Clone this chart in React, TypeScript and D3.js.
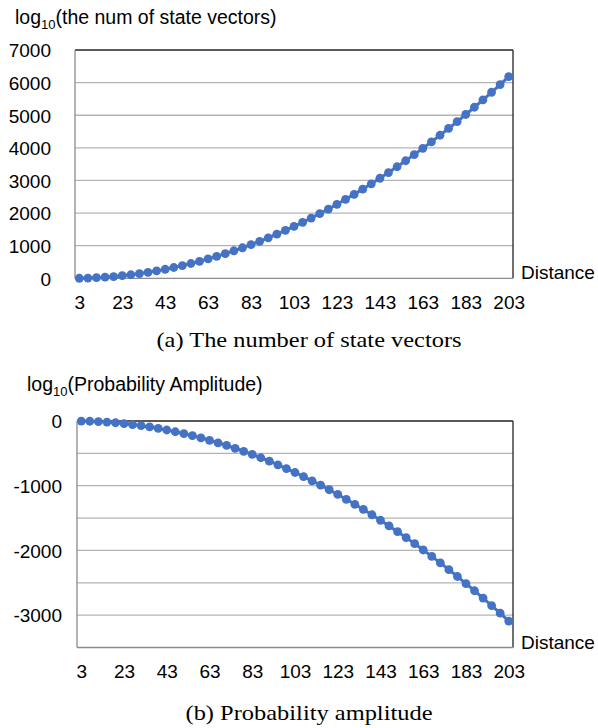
import React, { useEffect, useRef } from 'react'
import * as d3 from 'd3'

// distances 3, 7, 11 ... 203
const distances = [
  3, 7, 11, 15, 19, 23, 27, 31, 35, 39, 43, 47, 51, 55, 59, 63, 67, 71, 75, 79,
  83, 87, 91, 95, 99, 103, 107, 111, 115, 119, 123, 127, 131, 135, 139, 143, 147,
  151, 155, 159, 163, 167, 171, 175, 179, 183, 187, 191, 195, 199, 203,
]
const xTickLabels = [3, 23, 43, 63, 83, 103, 123, 143, 163, 183, 203]

const stateVectors = [
  1, 7, 18, 34, 54, 79, 109, 144, 184, 228, 277, 331, 390, 454, 522, 595, 673,
  756, 844, 936, 1033, 1135, 1242, 1354, 1470, 1591, 1717, 1848, 1984, 2124,
  2269, 2419, 2574, 2734, 2898, 3067, 3241, 3420, 3604, 3792, 3985, 4183, 4386,
  4594, 4806, 5023, 5245, 5472, 5704, 5940, 6181,
]
const stateTicks = [0, 1000, 2000, 3000, 4000, 5000, 6000, 7000]

const probAmplitude = [
  -1, -4, -9, -17, -27, -40, -55, -72, -92, -114, -139, -166, -195, -227, -261,
  -298, -337, -378, -422, -468, -517, -568, -621, -677, -735, -796, -859, -924,
  -992, -1062, -1135, -1210, -1287, -1367, -1449, -1534, -1621, -1710, -1802,
  -1896, -1993, -2092, -2193, -2297, -2403, -2512, -2623, -2736, -2852, -2970,
  -3091,
]
const probTicks = [0, -1000, -2000, -3000]
const probGrid = [-500, -1000, -1500, -2000, -2500, -3000]

const BLUE = '#4472C4'
const SANS = '"Liberation Sans", Arial, sans-serif'
const SERIF = '"Liberation Serif", "DejaVu Serif", serif'

function drawPanel(g, cfg) {
  const { left, right, top, bottom, domain, values, ticks, grid, labelRight,
    xLabelY, titleMain, titleX, titleY, captionText, captionY, captionLen } = cfg

  const x = d3.scalePoint().domain(distances).range([left, right]).padding(0.5)
  const y = d3.scaleLinear().domain(domain).range([bottom, top])

  // grid
  g.selectAll('.grid')
    .data(grid)
    .join('line')
    .attr('x1', left).attr('x2', right)
    .attr('y1', d => y(d)).attr('y2', d => y(d))
    .attr('stroke', '#b4b4b4').attr('stroke-width', 1.3)

  // frame
  g.append('line').attr('x1', left).attr('x2', right).attr('y1', top).attr('y2', top)
    .attr('stroke', '#222').attr('stroke-width', 1.3)
  g.append('line').attr('x1', right).attr('x2', right).attr('y1', top).attr('y2', bottom)
    .attr('stroke', '#222').attr('stroke-width', 1.3)
  g.append('line').attr('x1', left).attr('x2', right).attr('y1', bottom).attr('y2', bottom)
    .attr('stroke', '#8c8c8c').attr('stroke-width', 1.3)
  g.append('line').attr('x1', left).attr('x2', left).attr('y1', top).attr('y2', bottom)
    .attr('stroke', '#8c8c8c').attr('stroke-width', 1.3)

  // y axis labels
  const yAxis = d3.axisLeft(y).tickValues(ticks).tickSize(0).tickPadding(0)
    .tickFormat(d => String(d))
  g.append('g')
    .attr('transform', `translate(${labelRight},0)`)
    .call(yAxis)
    .call(s => s.select('.domain').remove())
    .selectAll('text')
    .attr('font-family', SANS).attr('font-size', 19).attr('fill', '#000')
    .attr('dy', '0.36em')

  // x axis labels
  const xAxis = d3.axisBottom(x).tickValues(xTickLabels).tickSize(0).tickPadding(0)
  g.append('g')
    .attr('transform', `translate(0,${xLabelY})`)
    .call(xAxis)
    .call(s => s.select('.domain').remove())
    .selectAll('text')
    .attr('font-family', SANS).attr('font-size', 19).attr('fill', '#000')
    .attr('dy', 0)

  // line and dots
  const pts = distances.map((d, i) => [x(d), y(values[i])])
  g.append('path')
    .attr('d', d3.line()(pts))
    .attr('fill', 'none').attr('stroke', BLUE).attr('stroke-width', 3)
  g.selectAll('.dot')
    .data(pts)
    .join('circle')
    .attr('cx', d => d[0]).attr('cy', d => d[1]).attr('r', 4.4)
    .attr('fill', BLUE)

  // "Distance"
  g.append('text')
    .attr('x', right + 8).attr('y', bottom + 1)
    .attr('font-family', SANS).attr('font-size', 19)
    .text('Distance')

  // y title with subscript
  const t = g.append('text')
    .attr('x', titleX).attr('y', titleY)
    .attr('font-family', SANS).attr('font-size', 19.5)
  t.append('tspan').text('log')
  t.append('tspan').attr('font-size', 13).attr('dy', 5).text('10')
  t.append('tspan').attr('dy', -5).text(titleMain)

  // caption
  g.append('text')
    .attr('x', 309).attr('y', captionY)
    .attr('text-anchor', 'middle')
    .attr('font-family', SERIF).attr('font-size', 21)
    .attr('textLength', captionLen).attr('lengthAdjust', 'spacingAndGlyphs')
    .text(captionText)
}

export default function App() {
  const svgRef = useRef(null)

  useEffect(() => {
    const svg = d3.select(svgRef.current)
    svg.selectAll('*').remove()

    drawPanel(svg.append('g'), {
      left: 75, right: 513, top: 50, bottom: 278.3,
      domain: [0, 7000], values: stateVectors,
      ticks: stateTicks, grid: stateTicks.slice(1, -1),
      labelRight: 51, xLabelY: 309,
      titleMain: '(the num of state vectors)', titleX: 15, titleY: 24,
      captionText: '(a) The number of state vectors', captionY: 347, captionLen: 305,
    })

    drawPanel(svg.append('g'), {
      left: 77, right: 513, top: 421, bottom: 647.5,
      domain: [-3500, 0], values: probAmplitude,
      ticks: probTicks, grid: probGrid,
      labelRight: 62, xLabelY: 678,
      titleMain: '(Probability Amplitude)', titleX: 27, titleY: 391,
      captionText: '(b) Probability amplitude', captionY: 720, captionLen: 247,
    })
  }, [])

  return (
    <div style={{ position: 'absolute', left: 0, top: 0 }}>
      <svg ref={svgRef} width={598} height={728} style={{ display: 'block', background: '#fff' }} />
    </div>
  )
}
